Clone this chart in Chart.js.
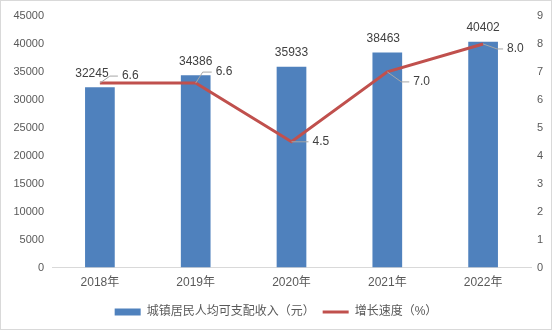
<!DOCTYPE html>
<html>
<head>
<meta charset="utf-8">
<script src="https://cdn.jsdelivr.net/npm/chart.js@4"></script>
<style>
html,body{margin:0;padding:0;background:#fff;}
#wrap{position:relative;width:550px;height:328px;border:1px solid #d9d9d9;}
canvas{display:block;}
</style>
</head>
<body>
<div id="wrap"><canvas id="c" width="550" height="328"></canvas></div>
<script>
const categories = ['2018年', '2019年', '2020年', '2021年', '2022年'];
const incomeValues = [32245, 34386, 35933, 38463, 40402];
const growthValues = [6.6, 6.6, 4.5, 7.0, 8.0];
const incomeTicks = [0, 5000, 10000, 15000, 20000, 25000, 30000, 35000, 40000, 45000];
const growthTicks = [0, 1, 2, 3, 4, 5, 6, 7, 8, 9];
const seriesNames = ['城镇居民人均可支配收入（元）', '增长速度（%）'];

const FONT = "'Liberation Sans', 'Noto Sans CJK SC', sans-serif";

// label placement tweaks (styling, not data)
const barLabelShift = [-8, 0, 0, -4, 0];
const lineLabelOffsets = [
  {bx: 10, by: -7, tx: 22},
  {bx: 7, by: -11, tx: 20},
  {bx: 0, by: 0, tx: 21},
  {bx: 14, by: 10, tx: 26},
  {bx: 14, by: 5, tx: 24}
];

const labelPlugin = {
  id: 'valueLabels',
  afterDatasetsDraw(chart) {
    const ctx = chart.ctx;
    ctx.save();
    ctx.font = '12px ' + FONT;
    ctx.fillStyle = '#404040';
    const barIdx = chart.data.datasets.findIndex(d => d.type === 'bar');
    const lineIdx = chart.data.datasets.findIndex(d => d.type === 'line');
    chart.getDatasetMeta(barIdx).data.forEach((el, i) => {
      ctx.textAlign = 'center';
      ctx.textBaseline = 'middle';
      ctx.fillText(String(incomeValues[i]), el.x + barLabelShift[i], el.y - 14);
    });
    chart.getDatasetMeta(lineIdx).data.forEach((el, i) => {
      const o = lineLabelOffsets[i];
      ctx.strokeStyle = '#a6a6a6';
      ctx.lineWidth = 1;
      ctx.beginPath();
      ctx.moveTo(el.x, el.y);
      ctx.lineTo(el.x + o.bx, el.y + o.by);
      ctx.lineTo(el.x + o.tx - 4, el.y + o.by);
      ctx.stroke();
      ctx.textAlign = 'left';
      ctx.textBaseline = 'middle';
      ctx.fillText(growthValues[i].toFixed(1), el.x + o.tx, el.y + o.by);
    });
    ctx.restore();
  }
};

new Chart(document.getElementById('c'), {
  data: {
    labels: categories,
    datasets: [
      {
        type: 'line',
        label: seriesNames[1],
        data: growthValues,
        yAxisID: 'y1',
        borderColor: '#C0504D',
        backgroundColor: '#C0504D',
        borderWidth: 3,
        pointRadius: 0,
        tension: 0,
        order: 0
      },
      {
        type: 'bar',
        label: seriesNames[0],
        data: incomeValues,
        yAxisID: 'y',
        backgroundColor: '#4F81BD',
        borderWidth: 0,
        barPercentage: 0.62,
        categoryPercentage: 0.5,
        order: 1
      }
    ]
  },
  options: {
    responsive: false,
    animation: false,
    events: [],
    layout: { padding: { top: 15, left: 0, right: 0, bottom: 1 } },
    plugins: {
      legend: {
        position: 'bottom',
        reverse: true,
        labels: {
          usePointStyle: true,
          pointStyleWidth: 26,
          boxHeight: 7,
          padding: 8,
          color: '#595959',
          font: { family: FONT, size: 12 },
          generateLabels(chart) {
            const items = Chart.defaults.plugins.legend.labels.generateLabels(chart);
            items.forEach(it => {
              const ds = chart.data.datasets[it.datasetIndex];
              if (ds.type === 'line') { it.pointStyle = 'line'; it.lineWidth = 3; it.strokeStyle = '#C0504D'; }
              else { it.pointStyle = 'rect'; it.lineWidth = 0; }
            });
            return items;
          }
        }
      },
      tooltip: { enabled: false }
    },
    scales: {
      x: {
        grid: { display: false, drawTicks: false },
        border: { display: true, color: '#d9d9d9', width: 1 },
        ticks: { color: '#595959', font: { family: FONT, size: 12 }, padding: 8 }
      },
      y: {
        position: 'left',
        min: 0, max: 45000,
        afterBuildTicks(scale) { scale.ticks = incomeTicks.map(v => ({ value: v })); },
        afterFit(scale) { scale.width = 51; },
        grid: { display: false, drawTicks: false },
        border: { display: false },
        ticks: { color: '#595959', font: { family: FONT, size: 11 }, padding: 8, callback: v => String(v) }
      },
      y1: {
        position: 'right',
        min: 0, max: 9,
        afterBuildTicks(scale) { scale.ticks = growthTicks.map(v => ({ value: v })); },
        afterFit(scale) { scale.width = 20; },
        grid: { display: false, drawTicks: false },
        border: { display: false },
        ticks: { color: '#595959', font: { family: FONT, size: 11 }, padding: 6, callback: v => String(v) }
      }
    }
  },
  plugins: [labelPlugin]
});
</script>
</body>
</html>
